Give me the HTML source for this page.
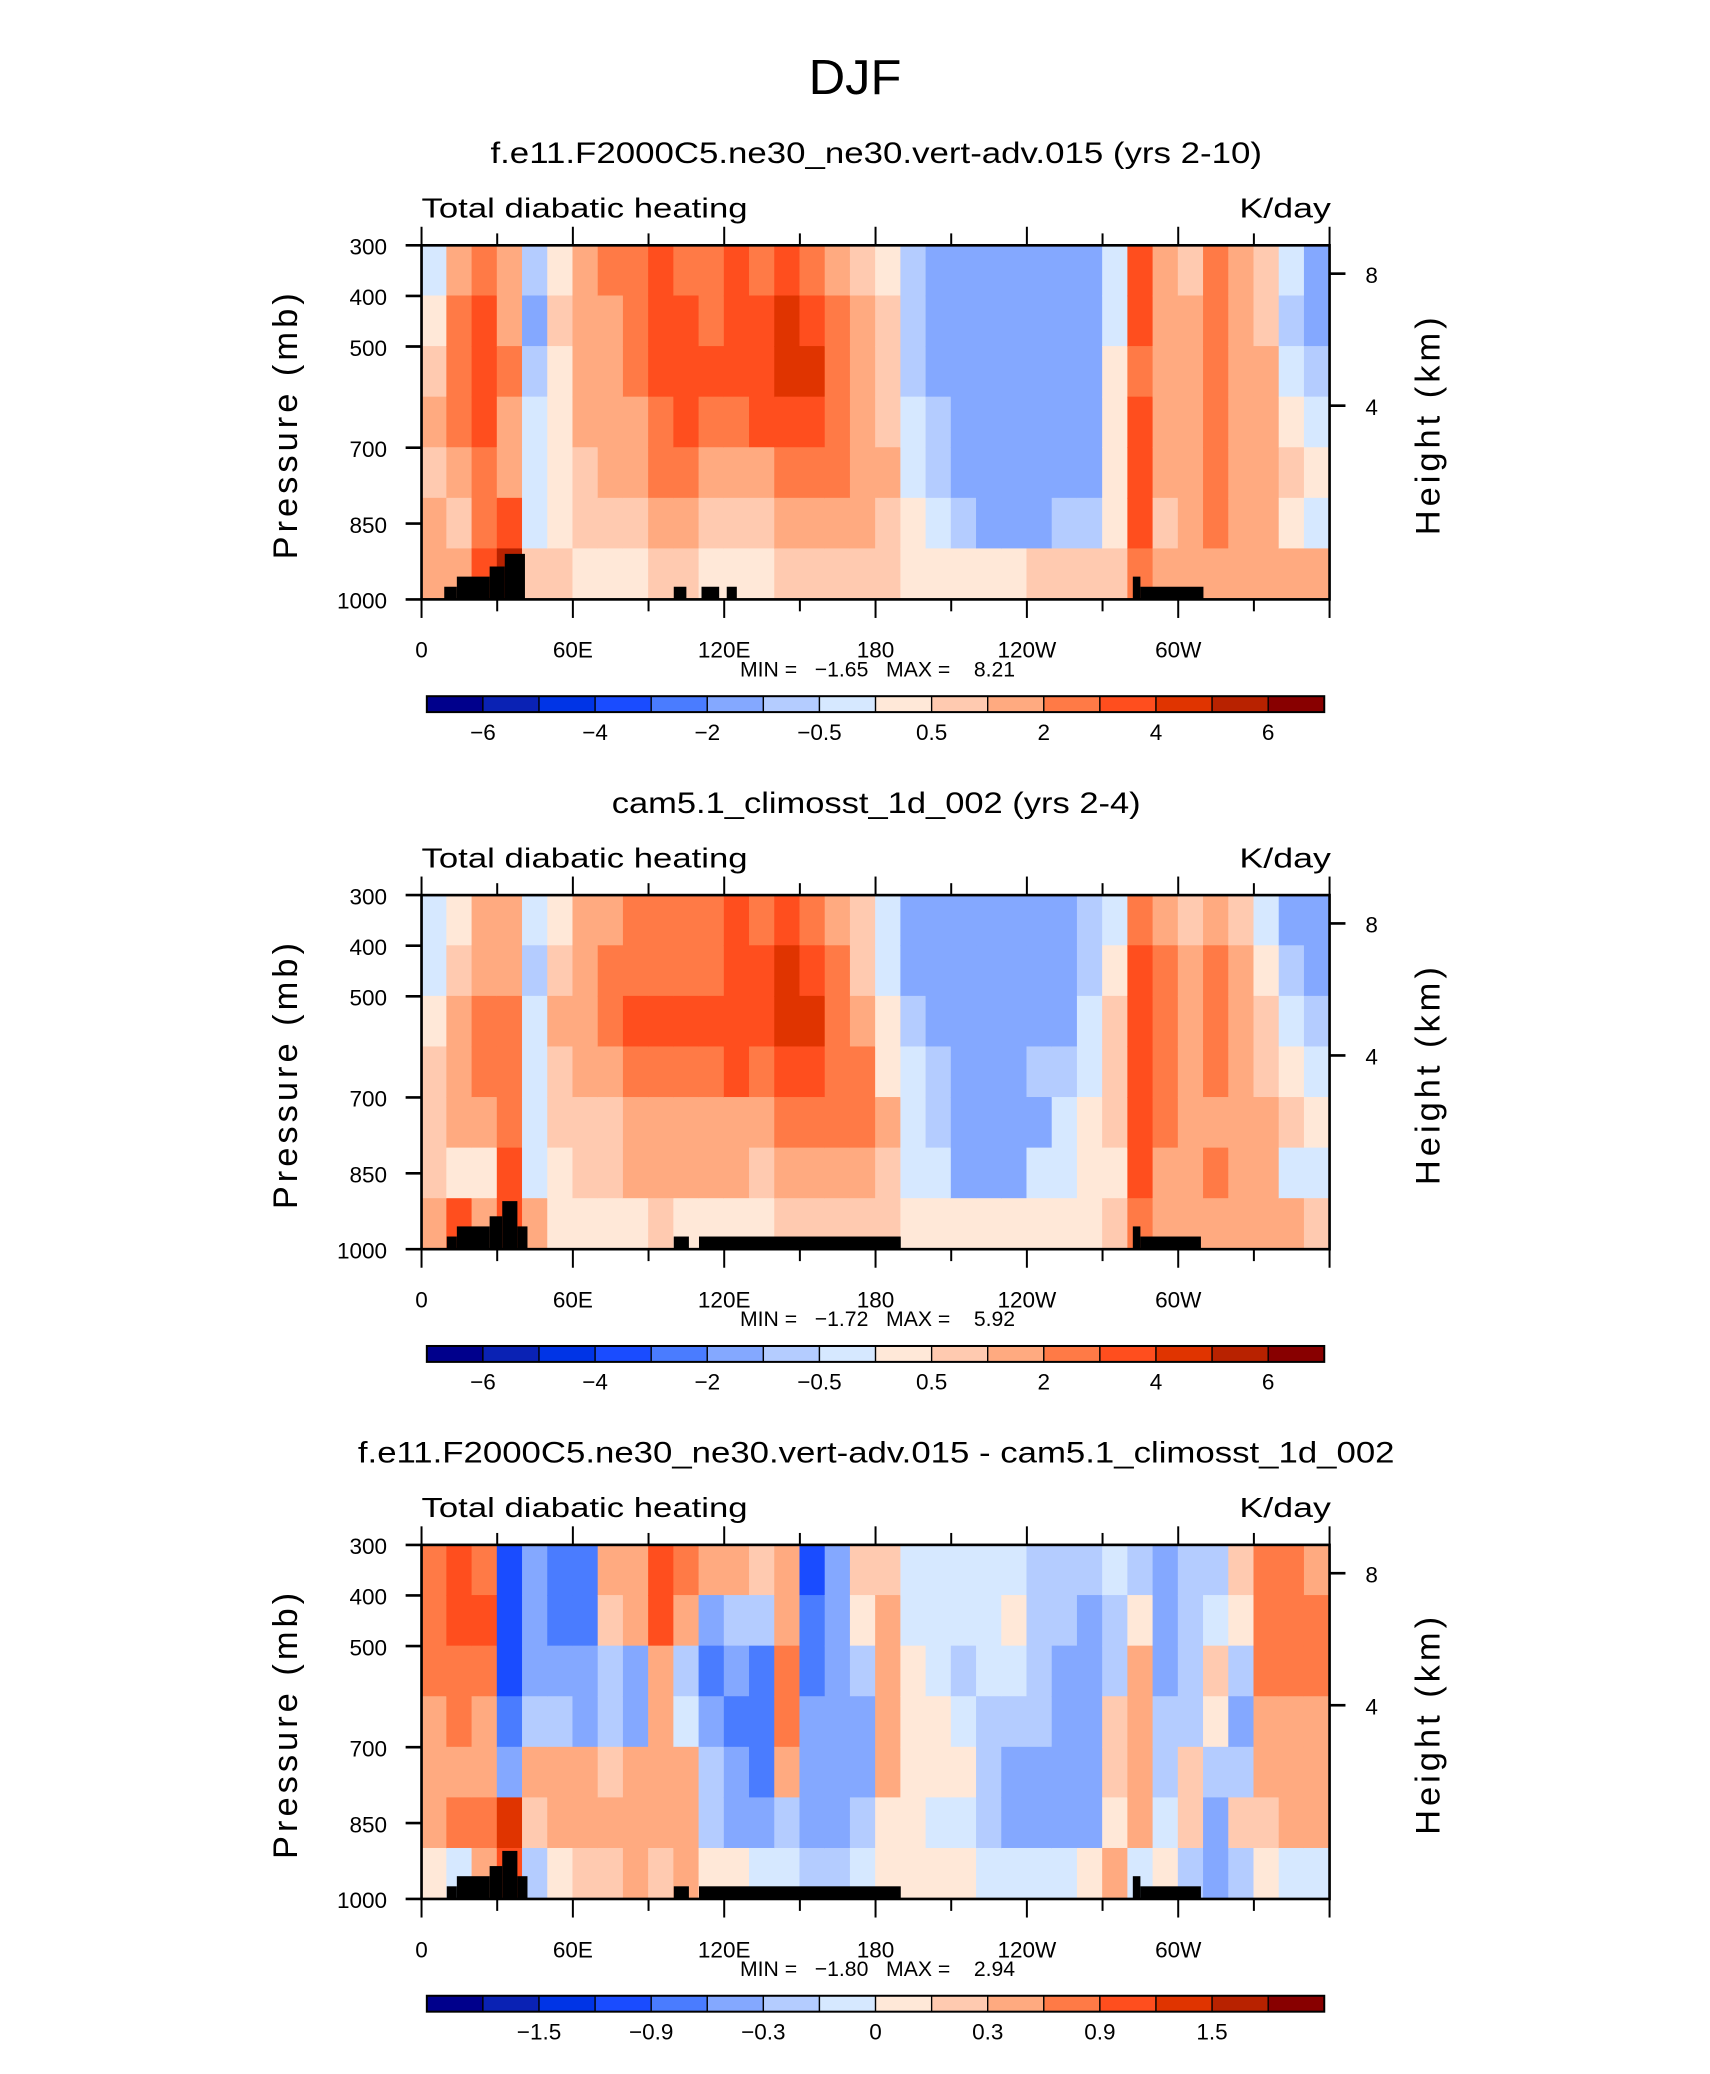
<!DOCTYPE html>
<html><head><meta charset="utf-8"><style>
html,body{margin:0;padding:0;background:#fff;}
svg{display:block;}
text{font-family:"Liberation Sans",sans-serif;fill:#000;}
</style></head><body>
<svg id="fig" width="1710" height="2074" viewBox="0 0 1290 1564" preserveAspectRatio="none" xmlns="http://www.w3.org/2000/svg">
<text x="645" y="71" font-size="37" text-anchor="middle" textLength="70" lengthAdjust="spacingAndGlyphs">DJF</text>
</svg>
<script>
const lonCenters=[5,15,25,35,45,55,65,75,85,95,105,115,125,135,145,155,165,175,185,195,205,215,225,235,245,255,265,275,285,295,305,315,325,335,345,355];
const levelBands=[[300,400],[400,500],[500,600],[600,700],[700,800],[800,900],[900,1000]];
const pTicks=[300,400,500,700,850,1000];
const lonTickLabels=['0','60E','120E','180','120W','60W'];
const lonTickValues=[0,60,120,180,240,300];
const hTicks=[{h:8,p:356},{h:4,p:617}];
const levA=[-6,-5,-4,-3,-2,-1,-0.5,0,0.5,1,2,3,4,5,6];
const levB=[-1.8,-1.5,-1.2,-0.9,-0.6,-0.3,-0.15,0,0.15,0.3,0.6,0.9,1.2,1.5,1.8];
const labA=['-6','-4','-2','-0.5','0.5','2','4','6'];
const labB=['-1.5','-0.9','-0.3','0','0.3','0.9','1.5'];
const colors=['#00008c','#0a22b4','#0034e6','#1a4cff','#4a7cff','#84a8ff','#b4ccff','#d6e8ff','#ffe8d8','#ffcab0','#ffaa80','#ff7a46','#ff4e1e','#e03400','#b82200','#880000'];
// rows: 300-400 ... 900-1000 for each longitude column
const field1=[
[-0.3,0.3,0.8,1,0.8,1,1.5],[1.5,2,2.5,2,1.5,0.8,1.5],[2,3,3.5,3,2,2,3],[1,1.5,2,1.5,1,3,5],
[-0.8,-1.2,-1,-0.5,-0.3,-0.3,0.5],[0.3,0.5,0.3,0.2,0.3,0.2,0.7],[1,1,1,1,0.8,0.5,0.3],[2,1.5,1.5,1,1,0.5,0.3],
[2.5,2.5,2,1.5,1.2,0.8,0.3],[3,3.5,3,2.5,2,1.2,0.5],[2.5,3,3.5,3,2,1.5,0.8],[2.5,2.5,3,2.5,1.5,0.8,0.4],
[3.5,3.5,3.5,2.5,1.2,0.6,0.3],[2.5,3,3.5,3,1.5,0.8,0.3],[3,4,4.5,3.5,2,1,0.5],[2.5,3.5,4,3,2,1.2,0.6],
[1.5,2,2.5,2,2,1.2,0.6],[0.8,1,1.2,1.5,1.5,1.2,0.6],[0.3,0.5,0.5,0.8,1,0.8,0.5],[-1,-1,-0.8,-0.5,-0.3,0.2,0.4],
[-1.2,-1.2,-1.2,-1,-0.8,-0.5,0.3],[-1.2,-1.3,-1.3,-1.2,-1.2,-0.8,0.3],[-1.3,-1.3,-1.3,-1.3,-1.3,-1.2,0.3],[-1.3,-1.3,-1.3,-1.3,-1.3,-1.2,0.3],
[-1.3,-1.3,-1.3,-1.3,-1.3,-1.2,0.5],[-1.3,-1.3,-1.3,-1.3,-1.2,-0.8,0.7],[-1.2,-1.2,-1.2,-1.2,-1.2,-0.8,0.8],[-0.5,-0.3,0.3,0.3,0.3,0.2,0.8],
[3.5,3,2.5,3,3.5,3,2],[1,1.5,1.5,1.5,1.2,0.8,1.5],[0.5,1,1.2,1.5,1.5,1.5,1.5],[2,2,2,2,2,2,1.5],
[1.5,1.5,1.5,1.5,1.5,1.5,1.5],[0.5,0.5,1,1.2,1.2,1.2,1.2],[-0.5,-0.8,-0.5,0.3,0.5,0.3,1],[-1.2,-1.5,-0.8,-0.3,0.3,-0.3,1]];
const field2=[
[-0.3,-0.3,0.3,0.8,0.8,0.5,1],[0.3,0.5,1,1,1,0.3,3],[1.5,1.5,2.5,2.5,1.5,0.3,1.5],[1,1.5,2,2.5,2.5,3,3],
[-0.5,-1,-0.5,-0.3,-0.3,-0.3,1.5],[0.3,0.8,1,0.8,0.8,0.3,0.3],[1.5,1.5,1.5,1,0.8,0.8,0.3],[1.5,2,2,1.5,0.8,0.8,0.3],
[2,2.5,3,2,1.5,1,0.3],[2,2.5,3,2.5,1.8,1.2,0.8],[2,2.5,3,2.5,1.5,1,0.4],[2.5,2.5,3,2.5,1.8,1.2,0.4],
[3,3,3.5,3,1.8,1,0.3],[2.5,3,3,2.5,1.5,0.8,0.3],[3.5,4,4.5,3.5,2.2,1.5,0.8],[2.5,3.5,4,3,2.2,1.5,0.8],
[1.5,2,2.5,2.5,2.2,1.5,0.8],[0.5,0.8,1.5,2,2,1.5,0.8],[-0.5,-0.3,0.3,0.3,1,0.8,0.5],[-1.2,-1.2,-0.8,-0.5,-0.3,-0.3,0.3],
[-1.2,-1.2,-1.2,-1,-0.8,-0.5,0.3],[-1.2,-1.2,-1.2,-1.2,-1.2,-1.2,0.3],[-1.2,-1.2,-1.2,-1.2,-1.2,-1.2,0.3],[-1.2,-1.2,-1.2,-1.2,-1.2,-1.2,0.3],
[-1.2,-1.2,-1.2,-1,-1.2,-0.5,0.3],[-1.2,-1.2,-1.2,-0.8,-0.5,-0.3,0.3],[-0.8,-0.8,-0.5,-0.3,0.3,0.3,0.3],[-0.3,0.3,0.5,0.5,0.5,0.3,0.5],
[2,3,3.5,3.5,3.5,3.5,2],[1,2,2,2,2,1,1.5],[0.5,1,1,1.5,1.5,1,1.5],[1.5,2,2,2,1.5,2,1.5],
[0.8,1.5,1.5,1.5,1.5,1.5,1.5],[-0.3,0.3,0.5,0.8,1,1,1],[-1.2,-0.8,-0.5,0.3,0.5,-0.3,1],[-1.2,-1.2,-1,-0.3,0.3,-0.3,0.8]];
const field3=[
[0.7,0.8,0.7,0.5,0.3,0.4,0.1],[1,1.1,0.8,0.6,0.4,0.6,-0.1],[0.7,0.9,0.7,0.5,0.4,0.6,0.5],[-1.0,-1.0,-1.1,-0.8,-0.5,1.2,1.0],
[-0.4,-0.5,-0.4,-0.2,0.3,0.2,-0.2],[-0.9,-0.9,-0.6,-0.3,0.4,0.3,0.1],[-0.8,-0.9,-0.6,-0.4,0.3,0.4,0.2],[0.3,0.2,-0.2,-0.3,0.2,0.4,0.2],
[0.4,0.4,-0.6,-0.4,0.4,0.4,0.3],[1.0,0.9,0.5,0.4,0.3,0.4,0.2],[0.7,0.3,-0.2,-0.1,0.3,0.5,0.3],[0.4,-0.4,-0.7,-0.6,-0.3,-0.3,0.1],
[0.4,-0.3,-0.6,-0.7,-0.6,-0.5,0.1],[0.2,-0.2,-0.7,-0.8,-0.7,-0.4,-0.1],[0.3,0.5,0.6,0.7,0.4,-0.2,-0.1],[-1.1,-0.9,-0.8,-0.6,-0.6,-0.5,-0.2],
[-0.6,-0.5,-0.5,-0.6,-0.6,-0.6,-0.2],[0.2,0.1,-0.3,-0.5,-0.4,-0.3,-0.1],[0.2,0.3,0.4,0.3,0.3,0.1,0.05],[-0.1,-0.1,0.1,0.1,0.1,0.1,0.1],
[-0.1,-0.1,-0.1,0.1,0.1,-0.1,0.1],[-0.1,-0.1,-0.2,-0.1,0.1,-0.1,0.1],[-0.1,-0.1,-0.1,-0.2,-0.3,-0.3,-0.1],[-0.1,0.1,-0.1,-0.3,-0.4,-0.5,-0.1],
[-0.2,-0.2,-0.3,-0.3,-0.5,-0.5,-0.1],[-0.2,-0.2,-0.4,-0.5,-0.6,-0.6,-0.1],[-0.3,-0.4,-0.5,-0.5,-0.4,-0.5,0.1],[-0.1,-0.2,-0.2,0.2,0.2,0.1,0.3],
[-0.2,0,0.3,0.3,0.5,0.5,-0.1],[-0.5,-0.4,-0.4,-0.3,-0.2,-0.1,0.1],[-0.3,-0.3,-0.2,-0.2,0.2,0.2,-0.2],[-0.3,-0.1,0.2,0.1,-0.3,-0.4,-0.4],
[0.2,0.1,-0.3,-0.4,-0.3,0.2,-0.2],[0.6,0.7,0.6,0.4,0.3,0.2,0.1],[0.6,0.6,0.7,0.4,0.4,0.3,-0.1],[0.5,0.6,0.6,0.4,0.4,0.3,-0.1]];
const topo1=[[9,14,975],[14,27,955],[27,33,935],[33,41,910],[100,105,975],[111,118,975],[121,125,975],[282,285,955],[285,310,975]];
const topo2=[[10,14,975],[14,27,955],[27,32,935],[32,38,905],[38,42,955],[100,106,975],[110,190,975],[282,285,955],[285,309,975]];
const titles=['f.e11.F2000C5.ne30_ne30.vert-adv.015 (yrs 2-10)','cam5.1_climosst_1d_002 (yrs 2-4)','f.e11.F2000C5.ne30_ne30.vert-adv.015 - cam5.1_climosst_1d_002'];
const titleW=[582,399,782];
const minMax=[['-1.65','8.21'],['-1.72','5.92'],['-1.80','2.94']];

const NS='http://www.w3.org/2000/svg';
const svg=document.getElementById('fig');
function mk(tag,attrs,parent,txt){const e=document.createElementNS(NS,tag);for(const k in attrs)e.setAttribute(k,attrs[k]);if(txt!==undefined)e.textContent=txt;(parent||svg).appendChild(e);return e;}
const X0=318,X1=1003;
function xOf(lon){return X0+(X1-X0)*lon/360;}
function colorOf(v,lev){let i=0;while(i<lev.length&&v>=lev[i])i++;return colors[i];}

const panels=[{f:field1,lev:levA,lab:labA,topo:topo1},{f:field2,lev:levA,lab:labA,topo:topo2},{f:field3,lev:levB,lab:labB,topo:topo2}];
panels.forEach((P,pi)=>{
  const dy=pi*490, T=185+dy, B=452+dy;
  const yOf=p=>T+(B-T)*(p-300)/700;
  const g=mk('g',{});
  
  
  const t=mk('text',{x:661,y:123+dy,'font-size':22,'text-anchor':'middle',textLength:titleW[pi],lengthAdjust:'spacingAndGlyphs'},g,titles[pi]);
  
  
  const s1=mk('text',{x:318,y:164+dy,'font-size':21,textLength:246,lengthAdjust:'spacingAndGlyphs'},g,'Total diabatic heating');
  
  
  const s2=mk('text',{x:1004,y:164+dy,'font-size':21,'text-anchor':'end',textLength:69,lengthAdjust:'spacingAndGlyphs'},g,'K/day');
  
  
  const w=(X1-X0)/lonCenters.length;
  P.f.forEach((col,ci)=>{
    col.forEach((v,ri)=>{
      const band=levelBands[ri];
      const r=mk('rect',{x:xOf(lonCenters[ci]-5)-0.3,y:yOf(band[0])-0.3,width:w+0.6,height:yOf(band[1])-yOf(band[0])+0.6,fill:colorOf(v,P.lev)},g);
      
      
    });
  });
  P.topo.forEach(tp=>{
    const r=mk('rect',{x:xOf(tp[0]),y:yOf(tp[2]),width:xOf(tp[1])-xOf(tp[0]),height:B-yOf(tp[2]),fill:'#000'},g);
    
    
  });
  const fr=mk('rect',{x:X0,y:T,width:X1-X0,height:B-T,fill:'none',stroke:'#000','stroke-width':2},g);
  
  
  for(let lon=0;lon<=360;lon+=30){
    const x=xOf(lon),len=lon%60===0?14:9;
    mk('line',{x1:x,y1:B,x2:x,y2:B+len,stroke:'#000','stroke-width':1.5},g);
    mk('line',{x1:x,y1:T,x2:x,y2:T-len,stroke:'#000','stroke-width':1.5},g);
  }
  lonTickValues.forEach((lv,i)=>{
    const tl=mk('text',{x:xOf(lv),y:496+dy,'font-size':17,'text-anchor':'middle'},g,lonTickLabels[i]);
    
    
  });
  pTicks.forEach(p=>{
    mk('line',{x1:X0-12,y1:yOf(p),x2:X0,y2:yOf(p),stroke:'#000','stroke-width':2},g);
    const tl=mk('text',{x:292,y:yOf(p)+7,'font-size':17,'text-anchor':'end'},g,String(p));
    
    
  });
  hTicks.forEach(h=>{
    mk('line',{x1:X1,y1:yOf(h.p),x2:X1+12,y2:yOf(h.p),stroke:'#000','stroke-width':2},g);
    const tl=mk('text',{x:1030,y:yOf(h.p)+7,'font-size':17},g,String(h.h));
    
    
  });
  const yt=mk('text',{x:0,y:0,'font-size':26,'text-anchor':'middle','letter-spacing':3,transform:`translate(224 ${320+dy}) rotate(-90)`},g,'Pressure (mb)');
  
  
  const ht=mk('text',{x:0,y:0,'font-size':26,'text-anchor':'middle','letter-spacing':3,transform:`translate(1086 ${320+dy}) rotate(-90)`},g,'Height (km)');
  
  
  const mm=mk('text',{x:662,y:510+dy,'font-size':16,'text-anchor':'middle',style:'white-space:pre'},g,'MIN =   '+minMax[pi][0].replace('-','\u2212')+'   MAX =    '+minMax[pi][1]);
  
  
  const cb=mk('g',{},g);
  
  
  const cx0=322,cx1=999,bw=(cx1-cx0)/16;
  colors.forEach((c,i)=>{mk('rect',{x:cx0+i*bw,y:525+dy,width:bw,height:12,fill:c,stroke:'#000','stroke-width':1},cb);});
  mk('rect',{x:cx0,y:525+dy,width:cx1-cx0,height:12,fill:'none',stroke:'#000','stroke-width':1.5},cb);
  const first=P.lev===levA?1:2;
  P.lab.forEach((l,i)=>{
    const tl=mk('text',{x:cx0+(first+2*i)*bw,y:558+dy,'font-size':17,'text-anchor':'middle'},cb,l.replace('-','\u2212'));
    
    
  });
});
</script>
</body></html>
